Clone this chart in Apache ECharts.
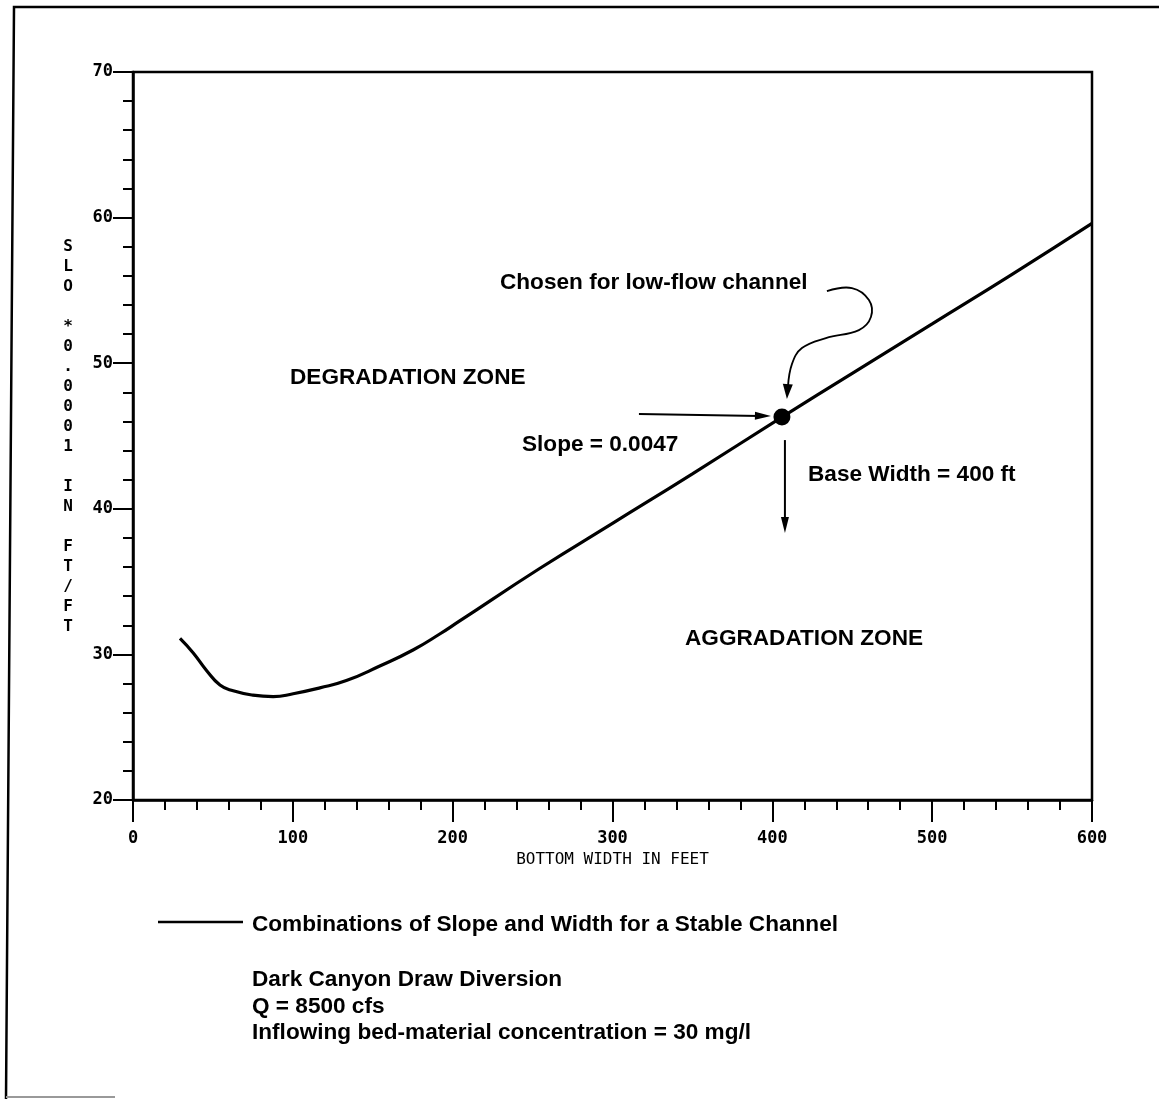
<!DOCTYPE html>
<html>
<head>
<meta charset="utf-8">
<script src="https://cdn.jsdelivr.net/npm/echarts@6/dist/echarts.min.js"></script>
<style>
html,body{margin:0;padding:0;background:#fff;}
#chart{width:1159px;height:1099px;}
</style>
</head>
<body>
<div id="chart"></div>
<script>
// Bottom width (ft) along the stable-channel curve
const widthFt = [29.4, 37.7, 46, 54.4, 62.7, 75, 87.7, 100.2, 116.9, 133.5, 154.4, 175.2, 191.9, 204.4, 254.4, 300, 350, 406, 450, 500, 550, 600];
// Slope * 0.0001 ft/ft
const slopeE4 = [31.1, 30.1, 28.9, 27.9, 27.5, 27.2, 27.1, 27.3, 27.7, 28.2, 29.2, 30.3, 31.4, 32.3, 35.9, 39.0, 42.4, 46.3, 49.3, 52.7, 56.1, 59.6];
// Chosen point for low-flow channel
const chosenPoint = [406, 46.3];
const xTicks = {min: 0, max: 600, interval: 100};
const yTicks = {min: 20, max: 70, interval: 10};
const yAxisTitle = 'SLO *0.0001 IN FT/FT';
const xAxisTitle = 'BOTTOM WIDTH IN FEET';
const legendText = 'Combinations of Slope and Width for a Stable Channel';
const noteLines = ['Dark Canyon Draw Diversion', 'Q = 8500 cfs', 'Inflowing bed-material concentration = 30 mg/l'];

const chart = echarts.init(document.getElementById('chart'), null, {renderer: 'canvas'});
const mono = '"DejaVu Sans Mono", "Liberation Mono", monospace';
const sans = '"Liberation Sans", Arial, Helvetica, sans-serif';
const curve = widthFt.map((x, i) => [x, slopeE4[i]]);
const FS = 22.6;

const option = {
  backgroundColor: '#fff',
  animation: false,
  grid: {left: 133, right: 67, top: 72, bottom: 299, show: true, borderColor: '#000', borderWidth: 2.5, backgroundColor: 'transparent'},
  xAxis: {
    type: 'value', min: xTicks.min, max: xTicks.max, interval: xTicks.interval,
    axisLine: {show: true, lineStyle: {color: '#000', width: 2.5}},
    axisTick: {show: true, inside: false, length: 22, lineStyle: {color: '#000', width: 2}},
    minorTick: {show: true, splitNumber: 5, length: 10, lineStyle: {color: '#000', width: 2}},
    splitLine: {show: false},
    axisLabel: {margin: 30, color: '#000', fontFamily: mono, fontWeight: 'bold', fontSize: 17},
    name: xAxisTitle, nameLocation: 'middle', nameGap: 51,
    nameTextStyle: {color: '#000', fontFamily: mono, fontSize: 16}
  },
  yAxis: {
    type: 'value', min: yTicks.min, max: yTicks.max, interval: yTicks.interval,
    axisLine: {show: true, lineStyle: {color: '#000', width: 2.5}},
    axisTick: {show: true, inside: false, length: 20, lineStyle: {color: '#000', width: 2}},
    minorTick: {show: true, splitNumber: 5, length: 10, lineStyle: {color: '#000', width: 2}},
    splitLine: {show: false},
    axisLabel: {margin: 20, color: '#000', fontFamily: mono, fontWeight: 'bold', fontSize: 17}
  },
  series: [
    {
      type: 'line', data: curve, smooth: 0.5, showSymbol: false,
      lineStyle: {color: '#000', width: 3.2}, z: 3
    },
    {
      type: 'scatter', data: [chosenPoint], symbol: 'circle', symbolSize: 17,
      itemStyle: {color: '#000', opacity: 1}, z: 4
    }
  ]
};
chart.setOption(option);

const p = chart.convertToPixel({gridIndex: 0}, chosenPoint);
const px = p[0], py = p[1];

function txt(text, x, y, size, extra) {
  return Object.assign({
    type: 'text', x: x, y: y,
    style: {text: text, fill: '#000', font: 'bold ' + size + 'px ' + sans, textAlign: 'left', textVerticalAlign: 'middle'}
  }, extra || {});
}
function head(tx, ty, ang, len, hw) {
  const bx = tx - Math.cos(ang) * len, by = ty - Math.sin(ang) * len;
  const nx = -Math.sin(ang) * hw, ny = Math.cos(ang) * hw;
  return {type: 'polygon', shape: {points: [[tx, ty], [bx + nx, by + ny], [bx - nx, by - ny]]}, style: {fill: '#000'}};
}

const graphics = [
  // page frame
  {type: 'polyline', shape: {points: [[1159, 7], [14, 7], [6, 1099]]}, style: {stroke: '#000', lineWidth: 2.5, fill: null}},
  {type: 'line', shape: {x1: 6, y1: 1097, x2: 115, y2: 1097}, style: {stroke: '#999', lineWidth: 2}},
  // y-axis title (stacked characters)
  {type: 'text', x: 68, y: 437, style: {text: yAxisTitle.split('').join('\n'), fill: '#000', font: 'bold 16px ' + mono, textAlign: 'center', textVerticalAlign: 'middle', lineHeight: 20}},
  // zone labels
  txt('DEGRADATION ZONE', 290, 378, FS),
  txt('AGGRADATION ZONE', 685, 639, FS),
  txt('Chosen for low-flow channel', 500, 283, FS),
  txt('Slope = 0.0047', 522, 445, FS),
  txt('Base Width = 400 ft', 808, 475, FS),
  // horizontal arrow to point
  {type: 'line', shape: {x1: px - 143, y1: py - 3, x2: px - 22, y2: py - 1}, style: {stroke: '#000', lineWidth: 2}},
  head(px - 11, py - 1, 0.02, 16, 4),
  // vertical arrow down from point
  {type: 'line', shape: {x1: px + 3, y1: py + 23, x2: px + 3, y2: py + 104}, style: {stroke: '#000', lineWidth: 2}},
  head(px + 3, py + 116, Math.PI / 2, 16, 4),
  // curved arrow from label
  {type: 'polyline', shape: {smooth: 0.4, points: [[px + 45, py - 126], [px + 70, py - 129], [px + 87, py - 117], [px + 89, py - 100], [px + 77, py - 87], [px + 44, py - 79], [px + 20, py - 69], [px + 10, py - 53], [px + 6, py - 30]]}, style: {stroke: '#000', lineWidth: 1.8, fill: null}},
  head(px + 5, py - 18, Math.PI / 2 + 0.06, 15, 5),
  // legend
  {type: 'line', shape: {x1: 158, y1: 922, x2: 243, y2: 922}, style: {stroke: '#000', lineWidth: 2.5}},
  txt(legendText, 252, 925, FS),
  txt(noteLines[0], 252, 980, FS),
  txt(noteLines[1], 252, 1007, FS),
  txt(noteLines[2], 252, 1033, FS)
];
chart.setOption({graphic: graphics});
</script>
</body>
</html>
